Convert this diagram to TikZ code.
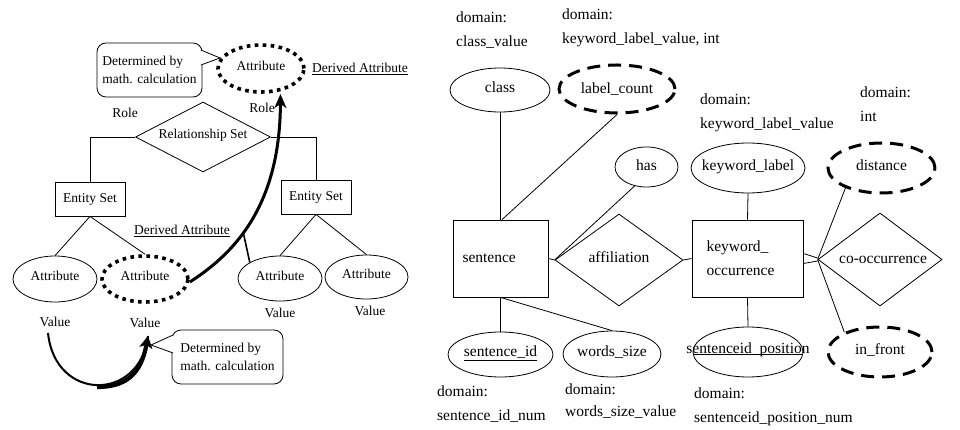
\documentclass[tikz,border=0pt]{standalone}
\usepackage{fontspec}
\setmainfont{Liberation Serif}
\usetikzlibrary{shapes.geometric,arrows.meta,calc}
\newcommand\clab[1]{\makebox[0pt]{#1}}
\begin{document}
\begin{tikzpicture}[x=1pt,y=-1pt,
  lf/.style={font=\fontsize{13.5}{18}\selectfont},
  rf/.style={font=\fontsize{15.5}{24}\selectfont},
  thin line/.style={line width=0.8pt},
  attr/.style={ellipse,draw,thin line,inner sep=0pt},
  dotattr/.style={ellipse,draw,line width=3.6pt,dash pattern=on 3.6pt off 4.4pt,inner sep=0pt},
  dashattr/.style={ellipse,draw,line width=3pt,dash pattern=on 13pt off 8pt,inner sep=0pt},
  ent/.style={rectangle,draw,thin line,inner sep=0pt},
  rel/.style={diamond,draw,thin line,inner sep=0pt,shape aspect=2},
  calloutbox/.style={rectangle,draw,thin line,rounded corners=9pt,align=left,inner sep=0pt},
  note/.style={inner sep=0pt},
  domtext/.style={rf,align=left,anchor=west,inner sep=0pt},
  bigarrow/.style={line width=3pt,-{Stealth[length=14pt,width=12pt,inset=4pt]}}
]
\useasboundingbox (0,0) rectangle (960,430);

% ---------------- left: notation of derived attributes ----------------
\node[calloutbox,lf,minimum width=105pt,minimum height=54pt] (c1) at (149.5,70)
  {Determined by\\math. calculation\hspace{6pt}};
\node[dotattr,lf,minimum width=86pt,minimum height=47pt] (tda) at (261,68.5)
  {\clab{\raisebox{5pt}{Attribute}}};
\node[note,lf] (tdl) at (360,69) {\underline{Derived Attribute}};
\coordinate (c1tip) at (220,58);
\draw[thin line,fill=white] ([shift={(-1.5,-20)}]c1.east) -- (c1tip) -- ([shift={(-1.5,-5)}]c1.east);

\node[note,lf] (role1) at (125,113) {Role};
\node[note,lf] (role2) at (262,108) {Role};
\node[rel,lf,minimum width=135pt,minimum height=70pt] (rs) at (203,137)
  {\raisebox{6pt}{Relationship Set}};
\node[ent,lf,minimum width=70pt,minimum height=34pt] (es1) at (90,199) {Entity Set};
\node[ent,lf,minimum width=70pt,minimum height=34pt] (es2) at (316,197) {Entity Set};
\draw[thin line] (rs.west) -| (es1.north);
\draw[thin line] (rs.east) -| (es2.north);

\node[attr,lf,minimum width=84pt,minimum height=46pt] (a1) at (55,279)
  {\clab{\raisebox{6pt}{Attribute}}};
\node[dotattr,lf,minimum width=86pt,minimum height=46pt] (da) at (145,279)
  {\clab{\raisebox{6pt}{Attribute}}};
\node[attr,lf,minimum width=84pt,minimum height=45pt] (a3) at (280,278.5)
  {\clab{\raisebox{6pt}{Attribute}}};
\node[attr,lf,minimum width=83pt,minimum height=44pt] (a4) at (366.5,277)
  {\clab{\raisebox{6pt}{Attribute}}};
\draw[thin line] (es1.south) -- (a1.north);
\draw[thin line] (es1.south) -- (da.north);
\draw[thin line] (es2.south) -- (a3.north);
\draw[thin line] (es2.south) -- (a4.north);
\node[note,lf] (ddl) at (182,231) {\underline{Derived Attribute}};

\node[note,lf] (va1) at (55,322) {Value};
\node[note,lf] (va2) at (145,323) {Value};
\node[note,lf] (va3) at (280,313) {Value};
\node[note,lf] (va4) at (370,311) {Value};

% derived attribute points to its definition
\draw[bigarrow] ([shift={(0,3)}]da.east) .. controls (240,250) and (280,200) ..
  coordinate[pos=0.4] (tick) ([shift={(3,2)}]tda.-55);
\draw[line width=1.6pt] (tick) -- (a3.152);

% computed value: a stroke that thickens towards its head
\draw[line width=2pt] ([shift={(-7,6)}]va1.south) .. controls (55,402) and (140,402) ..
  ([shift={(3,8)}]va2.south);
\draw[line width=4.2pt,-{Stealth[length=12pt,width=13pt,inset=3pt]}]
  (97,387) .. controls (125,387) and (141,375) .. ([shift={(3,8)}]va2.south);
\node[calloutbox,lf,minimum width=111pt,minimum height=54pt] (c2) at (227.5,357)
  {Determined by\\math. calculation\hspace{8pt}};
\coordinate (c2tip) at (151,345);
\draw[thin line,fill=white] ([shift={(1.5,-22)}]c2.west) -- (c2tip) -- ([shift={(1.5,-4)}]c2.west);

% ---------------- right: keyword ER schema ----------------
\node[domtext] (d1) at (456,30) {domain:\\class\_value};
\node[domtext] (d2) at (562,27.5) {domain:\\keyword\_label\_value, int};
\node[domtext] (d3) at (700,113) {domain:\\keyword\_label\_value};
\node[domtext] (d4) at (860,104) {domain:\\int};

\node[attr,rf,minimum width=100pt,minimum height=44pt] (cls) at (500,90)
  {\clab{\raisebox{5pt}{class}}};
\node[dashattr,rf,minimum width=116pt,minimum height=48pt] (lc) at (617,89)
  {\clab{\raisebox{1pt}{label\_count}}};
\node[attr,rf,minimum width=63pt,minimum height=40pt] (has) at (646.5,167)
  {\clab{\raisebox{4pt}{has}}};
\node[attr,rf,minimum width=114pt,minimum height=50pt] (kwl) at (748,168)
  {\clab{\raisebox{5pt}{keyword\_label}}};
\node[dashattr,rf,minimum width=107pt,minimum height=50pt] (dist) at (881.5,168)
  {\clab{\raisebox{5pt}{distance}}};

\node[ent,rf,minimum width=95pt,minimum height=77pt,text width=76pt,align=left] (sen)
  at (500.5,258.5) {sentence};
\node[rel,rf,minimum width=128pt,minimum height=92pt] (aff) at (619,260)
  {\raisebox{5pt}{affiliation}\hspace{12pt}};
\node[ent,rf,minimum width=111pt,minimum height=77pt,text width=82pt,align=left] (kw)
  at (747.5,258.5) {keyword\_\\occurrence};
\node[rel,rf,minimum width=124pt,minimum height=93pt] (co) at (880,259.5)
  {\hspace{6pt}co-occurrence};

\node[attr,rf,minimum width=105pt,minimum height=45pt] (sid) at (500.5,354.5)
  {\clab{\raisebox{7pt}{\underline{sentence\_id}}}};
\node[attr,rf,minimum width=98pt,minimum height=46pt] (ws) at (612,354)
  {\clab{\raisebox{6pt}{words\_size}}};
\node[attr,rf,minimum width=110pt,minimum height=50pt] (sp) at (748,352)
  {\clab{\raisebox{8pt}{sentenceid\_position}}};
\draw[thin line] ([shift={(0,2)}]sp.west) -- ([shift={(0,2)}]sp.east);
\node[dashattr,rf,minimum width=104pt,minimum height=50pt] (inf) at (880,352)
  {\clab{\raisebox{5pt}{in\_front}}};

\draw[thin line] (cls.south) -- (sen.north -| cls.south);
\draw[thin line] (lc.south) -- ([xshift=1.5pt]sen.north);
\draw[thin line] (has.238) -- (aff.west);
\draw[thin line] (sen.east) -- (aff.west);
\draw[thin line] (aff.east) -- (kw.west);
\draw[thin line] (kwl.south) -- (kw.north);
\draw[thin line] ([shift={(0,-5)}]kw.east) -- ([shift={(0,-1.5)}]co.west);
\draw[thin line] ([shift={(0,5)}]kw.east) -- ([shift={(0,1.5)}]co.west);
\draw[thin line] (co.west) -- (dist.209);
\draw[thin line] (co.west) -- (inf.151);
\draw[thin line] (kw.south) -- (sp.north);
\draw[thin line] (sen.south) -- (sid.north);
\draw[thin line] (sen.south) -- (ws.north);

\node[domtext] (d5) at (437,404.5) {domain:\\sentence\_id\_num};
\node[domtext,font=\fontsize{15.5}{22}\selectfont] (d6) at (565,401) {domain:\\words\_size\_value};
\node[domtext] (d7) at (694,406.5) {domain:\\sentenceid\_position\_num};
\end{tikzpicture}
\end{document}
